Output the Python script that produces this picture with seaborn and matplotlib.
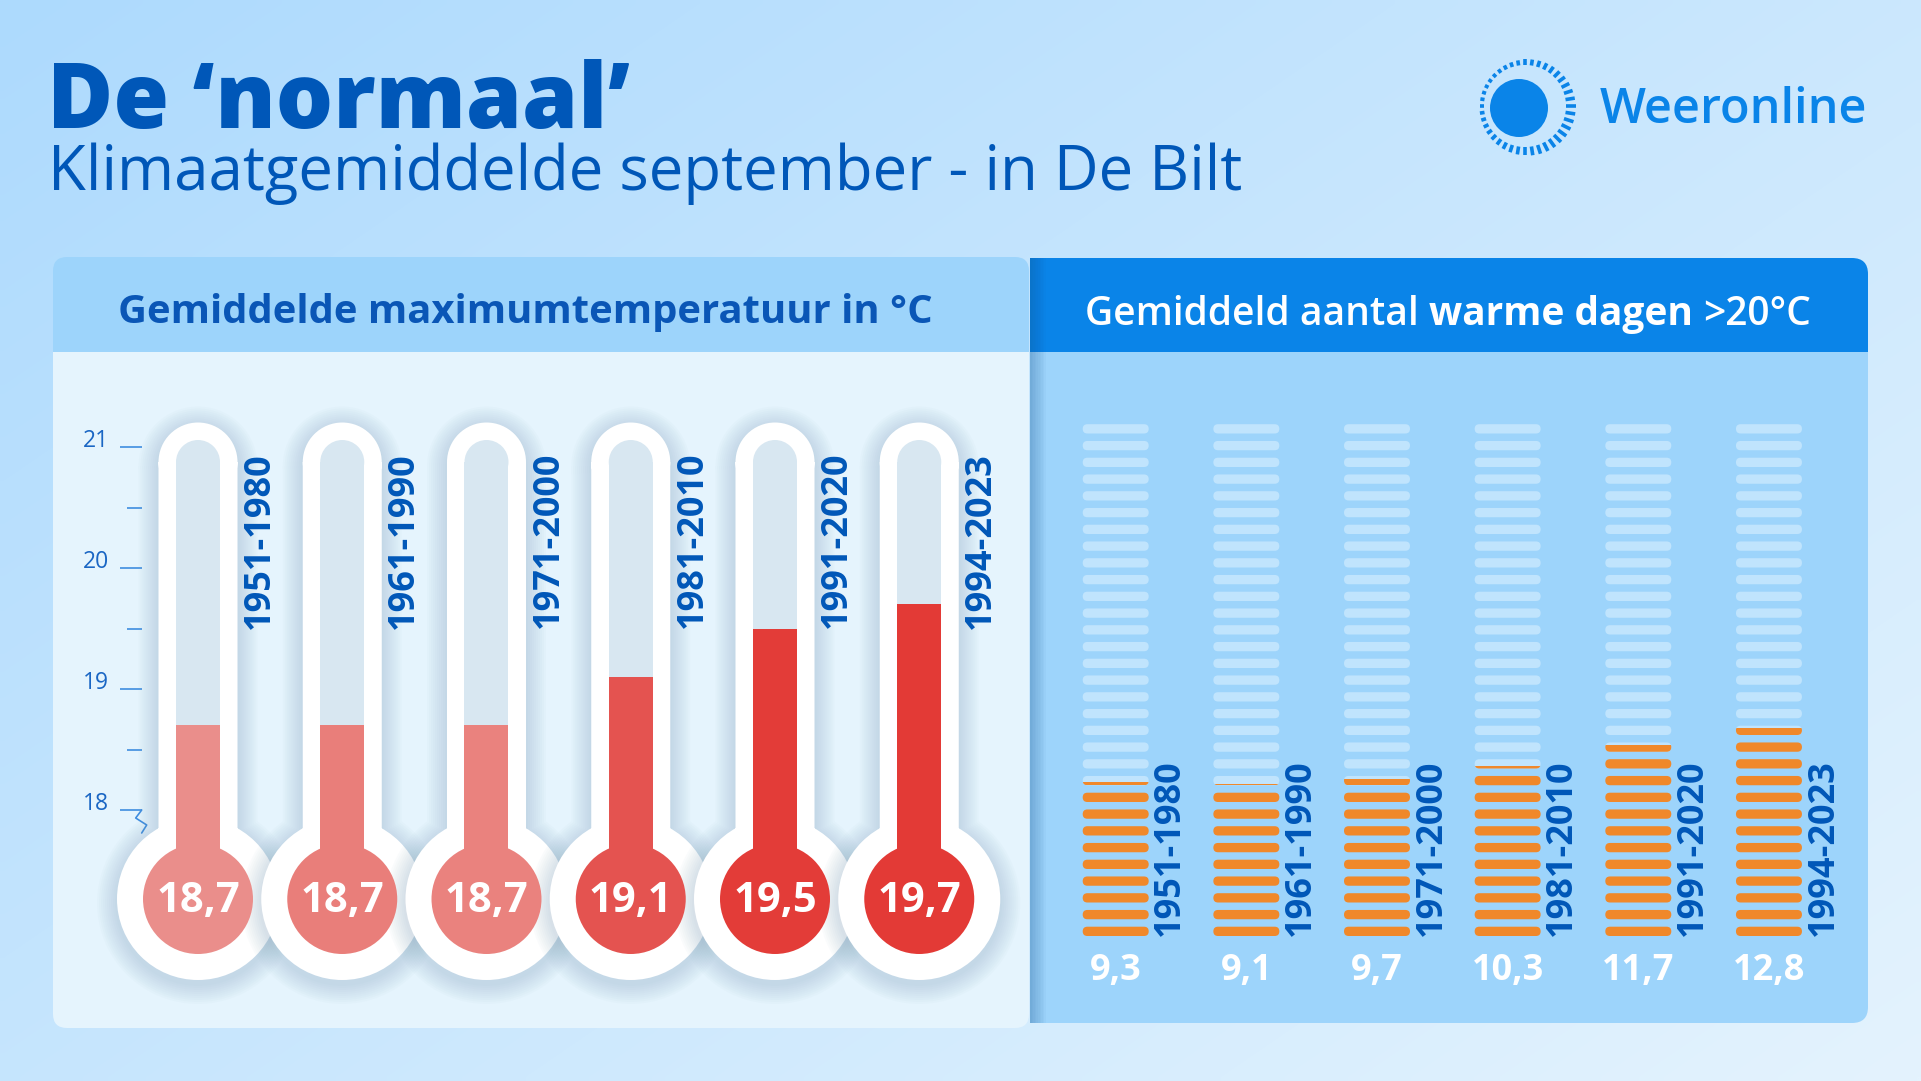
import numpy as np
import matplotlib
matplotlib.use("Agg")
import matplotlib.pyplot as plt
from matplotlib.colors import to_rgb
from matplotlib.patches import FancyBboxPatch, Rectangle, Ellipse, PathPatch
from matplotlib.path import Path
from matplotlib.transforms import Affine2D
import seaborn as sns

PERIODS = ["1951-1980", "1961-1990", "1971-2000", "1981-2010", "1991-2020", "1994-2023"]
MAX_TEMPS = [18.7, 18.7, 18.7, 19.1, 19.5, 19.7]
WARM_DAYS = [9.3, 9.1, 9.7, 10.3, 11.7, 12.8]
TEMP_TICKS = [18, 19, 20, 21]
TEMP_MINOR_TICKS = [18.5, 19.5, 20.5]
DAY_SLOTS = 31  # number of dashes per column
FILL_COLORS = ["#ea8e8b", "#e97e7a", "#ea827e", "#e45350", "#e33c38", "#e33a36"]

TITLE = "De \u2018normaal\u2019"
SUBTITLE = "Klimaatgemiddelde september - in De Bilt"
LEFT_HEADER = "Gemiddelde maximumtemperatuur in \u00b0C"
RIGHT_HEADER = [("Gemiddeld aantal", "semibold"), ("warme dagen", "bold"),
                (">20\u00b0C", "semibold")]

# colours
DARK_BLUE = "#0057b8"
BRAND_BLUE = "#0a84e8"
LIGHT_PANEL = "#e5f4fd"
MID_PANEL = "#9dd4fb"
EMPTY_TUBE = "#d8e7f1"
DASH_EMPTY = "#c0e4fd"
DASH_FULL = "#f0882a"

W, H = 1921, 1081

sns.set_theme(style="white")
plt.rcParams["font.family"] = ["Open Sans", "DejaVu Sans"]


def fig_rect(x0, y0, x1, y1):
    """Pixel box (top-down) -> figure fraction rect."""
    return [x0 / W, 1 - y1 / H, (x1 - x0) / W, (y1 - y0) / H]


def rbox(ax, x0, y0, x1, y1, r, color, z):
    ax.add_patch(FancyBboxPatch((x0, y0), x1 - x0, y1 - y0,
                                boxstyle=f"round,pad=0,rounding_size={r}",
                                fc=color, ec="none", zorder=z))


def fmt(v):
    return f"{v:.1f}".replace(".", ",")


fig = plt.figure(figsize=(W / 100, H / 100), dpi=100)
renderer = fig.canvas.get_renderer()

# ---------- background, panels, titles (pixel coordinates) ----------
bg = fig.add_axes([0, 0, 1, 1])
gx, gy = np.meshgrid(np.linspace(0, 1, 240), np.linspace(0, 1, 140))
t = gx * 0.55 + gy * 0.45
c0, c1 = np.array(to_rgb("#addafd")), np.array(to_rgb("#e4f3fe"))
bg.imshow(c0 + (c1 - c0) * t[..., None], extent=(0, W, H, 0), aspect="auto",
          interpolation="bilinear", zorder=0)
bg.set_xlim(0, W)
bg.set_ylim(H, 0)
bg.axis("off")

# left panel
rbox(bg, 53, 257, 1029, 400, 14, MID_PANEL, 1)
rbox(bg, 53, 352, 1029, 1028, 14, LIGHT_PANEL, 1.1)
bg.add_patch(Rectangle((53, 352), 976, 60, fc=LIGHT_PANEL, ec="none", zorder=1.2))
# right panel
rbox(bg, 1030, 258, 1868, 400, 16, BRAND_BLUE, 1)
bg.add_patch(Rectangle((1030, 258), 30, 100, fc=BRAND_BLUE, ec="none", zorder=1))
rbox(bg, 1030, 352, 1868, 1023, 16, MID_PANEL, 1.1)
bg.add_patch(Rectangle((1030, 352), 838, 60, fc=MID_PANEL, ec="none", zorder=1.2))
bg.add_patch(Rectangle((1030, 700), 30, 323, fc=MID_PANEL, ec="none", zorder=1.2))
# shadow cast by the left panel on the right one
for k in range(10):
    bg.add_patch(Rectangle((1030, 258), 16 - k * 1.6, 765, fc="#1d5d96",
                           ec="none", alpha=0.035, zorder=1.3))

bg.text(47, 128, TITLE, fontsize=65, fontweight="heavy", color=DARK_BLUE,
        ha="left", va="baseline", zorder=3)
bg.text(48, 190, SUBTITLE, fontsize=44.5, color=DARK_BLUE,
        ha="left", va="baseline", zorder=3)
bg.text(525, 323, LEFT_HEADER, fontsize=28.8, fontweight="bold", color="#0a56b6",
        ha="center", va="baseline", zorder=3)

# right header: mixed weights, centred as a whole
pieces = [bg.text(0, 325, s, fontsize=28, fontweight=w, color="white",
                  ha="left", va="baseline", zorder=3) for s, w in RIGHT_HEADER]
widths = [p.get_window_extent(renderer).width for p in pieces]
space = 10
x = 1448 - (sum(widths) + space * (len(pieces) - 1)) / 2
for p, w in zip(pieces, widths):
    p.set_x(x)
    x += w + space

# Weeronline logo
bg.add_patch(Ellipse((1519, 108), 58, 58, fc=BRAND_BLUE, ec="none", zorder=3))
for a in np.linspace(0, 2 * np.pi, 40, endpoint=False):
    thick = 4 + 6 * (1 + np.cos(a + 0.5)) / 2
    r_in = 41
    r_out = r_in + thick
    cxr, cyr = 1525, 106
    bg.plot([cxr + r_in * np.cos(a), cxr + r_out * np.cos(a)],
            [cyr - r_in * np.sin(a), cyr - r_out * np.sin(a)],
            color=BRAND_BLUE, lw=2.6, solid_capstyle="butt", zorder=3)
bg.text(1600, 123, "Weeronline", fontsize=35, fontweight="semibold",
        color=BRAND_BLUE, ha="left", va="baseline", zorder=3)

# ---------- thermometers ----------
T_X0, T_PITCH = 198, 144.25          # px of first thermometer, px per category
Y18, PPD = 810, 121                  # px of 18 degC, px per degC
BULB_PX, CAP_PX = 899, 462


def t_val(px):
    return 18 + (Y18 - px) / PPD


sx, sy = 1 / T_PITCH, 1 / PPD
bulb_v, cap_v = t_val(BULB_PX), t_val(CAP_PX)

ax_l = fig.add_axes(fig_rect(142, 405, 1000, BULB_PX))
sns.barplot(x=PERIODS, y=MAX_TEMPS, hue=PERIODS, palette=FILL_COLORS,
            width=44 / T_PITCH, saturation=1, legend=False, errorbar=None,
            linewidth=0, zorder=4, ax=ax_l)
ax_l.set_xlim((142 - T_X0) / T_PITCH, (1000 - T_X0) / T_PITCH)
ax_l.set_ylim(bulb_v, t_val(405))
ax_l.patch.set_visible(False)
for s in ax_l.spines.values():
    s.set_visible(False)
ax_l.set_xlabel("")
ax_l.set_ylabel("")
ax_l.tick_params(axis="x", bottom=False, labelbottom=False)
ax_l.set_yticks(TEMP_TICKS)
ax_l.set_yticklabels([str(v) for v in TEMP_TICKS])
ax_l.set_yticks(TEMP_MINOR_TICKS, minor=True)
ax_l.tick_params(axis="y", which="major", direction="out", length=16, width=1.2,
                 color="#3f8de0", labelsize=16.5, labelcolor="#1a66c4", pad=8, left=True)
ax_l.tick_params(axis="y", which="minor", direction="out", length=11, width=1.2,
                 color="#3f8de0", left=True)
for lbl in ax_l.get_yticklabels():
    lbl.set_va("baseline")

# axis break mark under 18
bg.plot([141.7, 135.7, 146.7, 141.7], [Y18, Y18 + 8, Y18 + 15, Y18 + 23],
        color="#3f8de0", lw=1.2, zorder=3)


def thermo_path(cx, grow=0.0, drop=0.0):
    """Union outline of tube, rounded top and bulb in data coords."""
    hw = (39.5 + grow) * sx
    rect = Path.unit_rectangle().transformed(
        Affine2D().scale(2 * hw, cap_v - bulb_v).translate(cx - hw, bulb_v - drop * sy))
    cap = Path.circle().transformed(
        Affine2D().scale((39.5 + grow) * sx, (39.5 + grow) * sy).translate(cx, cap_v - drop * sy))
    bulb = Path.circle().transformed(
        Affine2D().scale((81 + grow) * sx, (81 + grow) * sy).translate(cx, bulb_v - drop * sy))
    return Path.make_compound_path(rect, cap, bulb)


for i, (period, temp) in enumerate(zip(PERIODS, MAX_TEMPS)):
    z = 2 + i * 0.01
    for g in range(2, 22, 2):
        ax_l.add_patch(PathPatch(thermo_path(i, g, 4), fc="#7b9fb9", ec="none",
                                 alpha=0.03, zorder=z - 0.005, clip_on=False))
    ax_l.add_patch(PathPatch(thermo_path(i), fc="white", ec="none", zorder=z,
                             clip_on=False))
    ax_l.add_patch(Rectangle((i - 22 * sx, bulb_v), 44 * sx, cap_v - bulb_v,
                             fc=EMPTY_TUBE, ec="none", zorder=3))
    ax_l.add_patch(Ellipse((i, cap_v), 44 * sx, 44 * sy, fc=EMPTY_TUBE, ec="none",
                           zorder=3))
    ax_l.add_patch(Ellipse((i, bulb_v), 110 * sx, 110 * sy, fc=FILL_COLORS[i],
                           ec="none", zorder=5, clip_on=False))
    ax_l.text(i, t_val(912), fmt(temp), ha="center", va="baseline", fontsize=30,
              fontweight="bold", color="white", zorder=6)
    ax_l.text(i + 62 * sx, t_val(452), period, rotation=90, ha="center", va="top",
              fontsize=26, fontweight="bold", color=DARK_BLUE, zorder=6)

# ---------- warm days: stacked dashes ----------
D_X0, D_PITCH = 1115.7, 130.65       # px of first column, px per category
D_PP = 16.75                          # px per dash slot
D_Y0 = 936 + (D_PP - 9.3) / 2         # px of slot 0 bottom
DASH_W, DASH_H = 66 / D_PITCH, 9.3 / D_PP
GAP = (1 - DASH_H) / 2

ax_r = fig.add_axes(fig_rect(1060, D_Y0 - DAY_SLOTS * D_PP, 1860, D_Y0))
ax_r.set_xlim((1060 - D_X0) / D_PITCH, (1860 - D_X0) / D_PITCH)
ax_r.set_ylim(0, DAY_SLOTS)
ax_r.axis("off")
aspect = D_PITCH / D_PP
round_r = 4.65 / D_PITCH


def dash(x, k, color, z):
    return FancyBboxPatch((x - DASH_W / 2, k + GAP), DASH_W, DASH_H,
                          boxstyle=f"round,pad=0,rounding_size={round_r}",
                          mutation_aspect=aspect, fc=color, ec="none", zorder=z)


for i, (period, days) in enumerate(zip(PERIODS, WARM_DAYS)):
    full = int(np.floor(days))
    frac = days - full
    for k in range(DAY_SLOTS):
        ax_r.add_patch(dash(i, k, DASH_FULL if k < full else DASH_EMPTY, 2))
        if k == full and frac > 0:
            part = dash(i, k, DASH_FULL, 3)
            ax_r.add_patch(part)
            clip = Rectangle((i - DASH_W, k + GAP), 2 * DASH_W, frac * DASH_H,
                             transform=ax_r.transData)
            part.set_clip_path(clip)
    ax_r.text(i + 54.6 / D_PITCH, (D_Y0 - 936) / D_PP, period, rotation=90,
              ha="center", va="bottom", fontsize=26, fontweight="bold",
              color=DARK_BLUE, zorder=4)
    ax_r.text(i, (D_Y0 - 980) / D_PP, fmt(days), ha="center", va="baseline",
              fontsize=26, fontweight="bold", color="white", zorder=4)

fig.savefig("out.png", dpi=100)
